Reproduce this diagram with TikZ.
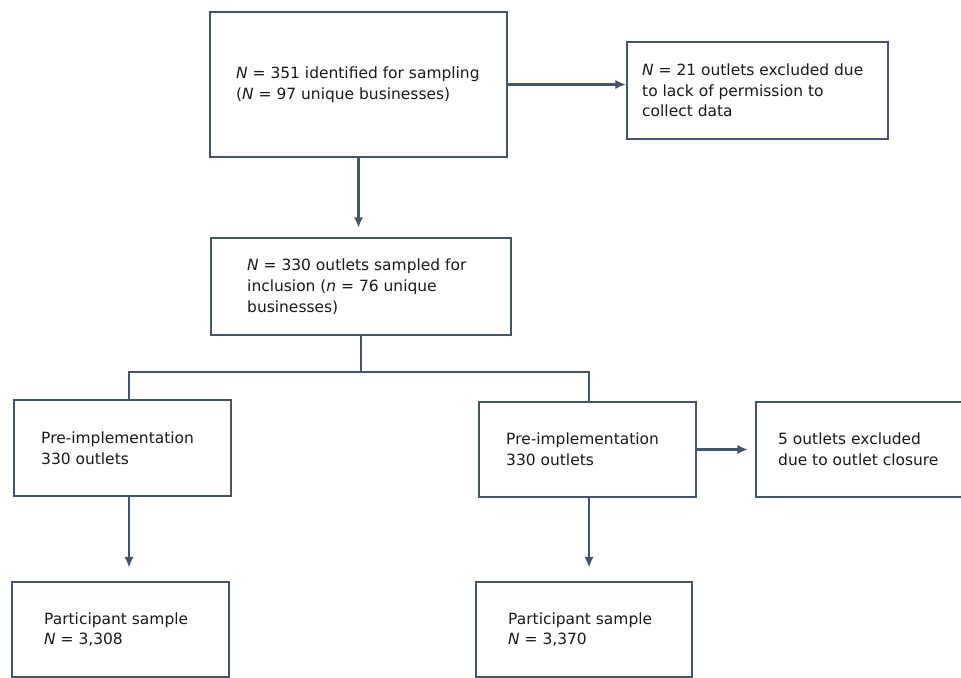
\documentclass[tikz,border=0pt]{standalone}
\usepackage{fontspec}
\setmainfont{DejaVu Sans}
\usetikzlibrary{positioning, fit, arrows.meta}

\definecolor{slate}{RGB}{68, 84, 106}

\tikzset{
	box/.style = {draw = slate, line width = 1.6pt, inner sep = 0pt},
	boxtext/.style = {inner sep = 0pt, align = left, text = black!90, font = \fontsize{11.6}{15.5}\selectfont},
	flow/.style = {draw = slate, line width = 1.6pt}
}

\begin{document}
\begin{tikzpicture}[x = 0.75pt, y = -0.75pt, > = {Latex[length = 8pt, width = 7pt]}]

	% Page frame
	
	\useasboundingbox (0, 0) rectangle (961, 678);
	
	% Boxes
	
	\node [box, fit = {(210, 12) (507, 157)}] (ident) {};
	\node [box, fit = {(627, 42) (888, 139)}] (excl-perm) {};
	\node [box, fit = {(211, 238) (511, 335)}] (sampled) {};
	\node [box, fit = {(14, 400) (231, 496)}] (pre-left) {};
	\node [box, fit = {(479, 402) (696, 497)}] (pre-right) {};
	\node [box, fit = {(756, 402) (964, 497)}] (excl-close) {};
	\node [box, fit = {(12, 582) (229, 677)}] (sample-left) {};
	\node [box, fit = {(476, 582) (692, 677)}] (sample-right) {};
	
	% Box texts
	
	\node [boxtext, right = 20.25pt of ident.west] (ident-text) {\textit{N} = 351 identified for sampling\\(\textit{N} = 97 unique businesses)};
	\node [boxtext, right = 12pt of excl-perm.west] (excl-perm-text) {\textit{N} = 21 outlets excluded due\\to lack of permission to\\collect data};
	\node [boxtext, right = 27.75pt of sampled.west] (sampled-text) {\textit{N} = 330 outlets sampled for\\inclusion (\textit{n} = 76 unique\\businesses)};
	\node [boxtext, right = 21pt of pre-left.west] (pre-left-text) {Pre-implementation\\330 outlets};
	\node [boxtext, right = 21pt of pre-right.west] (pre-right-text) {Pre-implementation\\330 outlets};
	\node [boxtext, right = 17.25pt of excl-close.west] (excl-close-text) {5 outlets excluded\\due to outlet closure};
	\node [boxtext, right = 24.75pt of sample-left.west] (sample-left-text) {Participant sample\\\textit{N} = 3,308};
	\node [boxtext, right = 24.75pt of sample-right.west] (sample-right-text) {Participant sample\\\textit{N} = 3,370};
	
	% Split points
	
	\coordinate (split-left) at (129, 372);
	\coordinate (split-right) at (589, 372);
	
	% Connectors
	
	\draw [flow, ->] (ident.east) -- (ident.east -| excl-perm.west);
	\draw [flow, ->, shorten > = 6.75pt] (ident.south) -- (ident.south |- sampled.north);
	\draw [flow] (sampled.south) -- (sampled.south |- split-left);
	\draw [flow] (split-left |- pre-left.north) -- (split-left) -- (split-right) -- (split-right |- pre-right.north);
	\draw [flow, ->, shorten > = 5.25pt] (pre-right.east) -- (pre-right.east -| excl-close.west);
	\draw [flow, ->, shorten > = 10pt] (pre-left.south -| split-left) -- (split-left |- sample-left.north);
	\draw [flow, ->, shorten > = 10pt] (pre-right.south -| split-right) -- (split-right |- sample-right.north);

\end{tikzpicture}
\end{document}
